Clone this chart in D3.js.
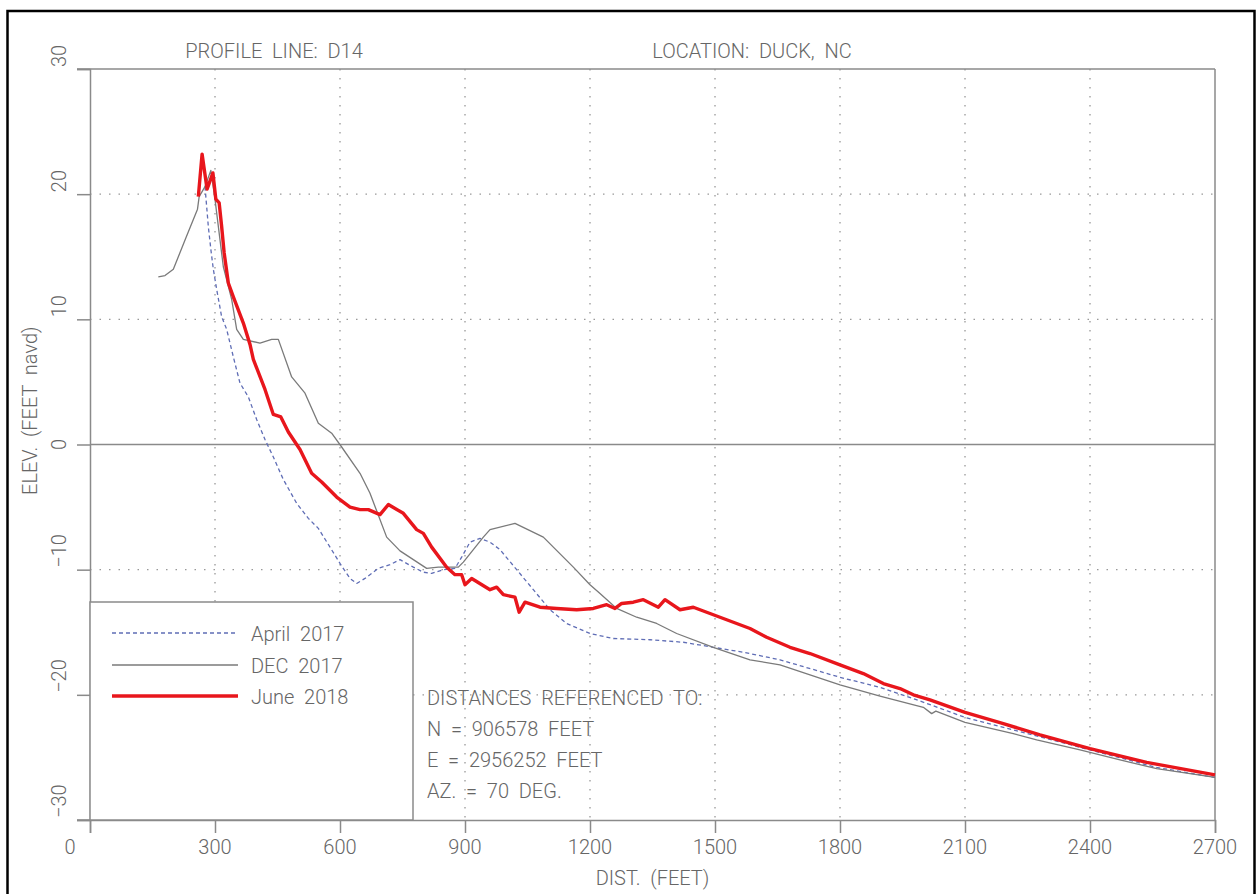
<!DOCTYPE html>
<html>
<head>
<meta charset="utf-8">
<script src="https://cdn.jsdelivr.net/npm/d3@7/dist/d3.min.js"></script>
<style>
  html, body { margin: 0; padding: 0; background: #fff; }
  svg text { font-family: Roboto, "Liberation Sans", "DejaVu Sans", sans-serif; font-weight: 300; fill: #666; white-space: pre; }
</style>
</head>
<body>
<svg id="chart" width="1257" height="894"></svg>
<script>
// ---- data ----
const xTicks = [0, 300, 600, 900, 1200, 1500, 1800, 2100, 2400, 2700];
const yTicks = [30, 20, 10, 0, -10, -20, -30];
const xGrid = [300, 600, 900, 1200, 1500, 1800, 2100, 2400];
const yGrid = [20, 10, -10, -20];

const april2017 = [[276,20.6],[280,19.0],[284,17.4],[290,15.6],[296,14.0],[304,12.4],[316,10.2],[328,9.2],[344,7.0],[360,4.9],[380,3.8],[400,2.0],[420,0.4],[440,-1.0],[464,-2.8],[496,-4.7],[524,-5.9],[548,-6.7],[576,-8.2],[600,-9.5],[624,-10.7],[640,-11.1],[660,-10.7],[692,-9.9],[720,-9.6],[744,-9.2],[776,-9.8],[800,-10.2],[820,-10.3],[848,-10.0],[876,-9.9],[892,-9.0],[912,-7.8],[936,-7.5],[960,-7.8],[984,-8.4],[1024,-10.0],[1064,-11.6],[1104,-13.2],[1144,-14.3],[1200,-15.1],[1256,-15.5],[1344,-15.6],[1424,-15.8],[1496,-16.2],[1568,-16.6],[1656,-17.2],[1800,-18.6],[1896,-19.4],[1976,-20.3],[2100,-21.8],[2216,-22.8],[2400,-24.4],[2560,-25.8],[2700,-26.6]];

const dec2017 = [[164,13.4],[180,13.5],[200,14.0],[230,16.5],[258,18.8],[262,19.8],[276,20.6],[290,21.9],[300,19.6],[304,18.5],[320,14.2],[340,11.6],[352,9.2],[368,8.4],[408,8.1],[436,8.4],[452,8.4],[484,5.4],[516,4.1],[548,1.7],[580,0.9],[604,-0.2],[648,-2.3],[672,-3.9],[712,-7.4],[744,-8.5],[808,-9.9],[836,-9.8],[884,-9.8],[896,-9.4],[944,-7.4],[960,-6.8],[1020,-6.3],[1088,-7.4],[1112,-8.2],[1160,-9.8],[1200,-11.2],[1224,-11.9],[1264,-13.1],[1312,-13.8],[1360,-14.3],[1408,-15.1],[1496,-16.2],[1584,-17.2],[1656,-17.6],[1800,-19.2],[1896,-20.1],[2000,-21.0],[2020,-21.5],[2030,-21.3],[2100,-22.2],[2216,-23.1],[2272,-23.6],[2376,-24.4],[2472,-25.2],[2560,-25.9],[2700,-26.6]];

const june2018 = [[260,19.8],[269,23.2],[281,20.4],[295,21.7],[302,19.6],[310,19.3],[316,17.4],[322,15.3],[332,12.9],[344,11.8],[368,9.7],[384,8.0],[392,6.8],[420,4.4],[440,2.4],[458,2.2],[476,1.0],[488,0.4],[504,-0.4],[532,-2.3],[556,-3.0],[592,-4.2],[624,-5.0],[648,-5.2],[668,-5.2],[696,-5.6],[716,-4.8],[752,-5.5],[784,-6.8],[800,-7.1],[820,-8.2],[856,-9.8],[876,-10.4],[892,-10.4],[900,-11.2],[916,-10.7],[960,-11.6],[976,-11.4],[992,-12.0],[1020,-12.2],[1030,-13.4],[1044,-12.6],[1080,-13.0],[1120,-13.1],[1168,-13.2],[1208,-13.1],[1240,-12.8],[1260,-13.1],[1276,-12.7],[1304,-12.6],[1328,-12.4],[1364,-13.0],[1380,-12.4],[1416,-13.2],[1448,-13.0],[1496,-13.6],[1528,-14.0],[1584,-14.7],[1624,-15.4],[1680,-16.2],[1728,-16.7],[1800,-17.6],[1856,-18.3],[1904,-19.1],[1944,-19.5],[1976,-20.0],[2016,-20.4],[2100,-21.4],[2192,-22.3],[2280,-23.2],[2400,-24.3],[2536,-25.4],[2700,-26.4]];

const seriesNames = ["April  2017", "DEC  2017", "June  2018"];
const annotationLines = ["DISTANCES  REFERENCED  TO:", "N  =  906578  FEET", "E  =  2956252  FEET", "AZ.  =  70  DEG."];
const titleLeft = "PROFILE  LINE:  D14";
const titleRight = "LOCATION:  DUCK,  NC";
const xTitle = "DIST.  (FEET)";
const yTitle = "ELEV.  (FEET  navd)";

// ---- layout ----
const svg = d3.select("#chart");
const L = 90, R = 1215, T = 69, B = 820;
const x = d3.scaleLinear().domain([0, 2700]).range([L, R]);
const y = d3.scaleLinear().domain([-30, 30]).range([B, T]);
const axisCol = "#8a8a8a";
const fmt = v => v < 0 ? "\u2212" + Math.abs(v) : String(v);

// outer frame
svg.append("rect").attr("x", 7.5).attr("y", 11).attr("width", 1247).attr("height", 900)
  .attr("fill", "none").attr("stroke", "#000").attr("stroke-width", 2.5);

// grid
const g = svg.append("g");
g.selectAll(".vg").data(xGrid).join("line")
  .attr("x1", d => x(d)).attr("x2", d => x(d)).attr("y1", T).attr("y2", B)
  .attr("stroke", "#999").attr("stroke-width", 1.3).attr("stroke-dasharray", "1.5,7.5");
g.selectAll(".hg").data(yGrid).join("line")
  .attr("x1", L).attr("x2", R).attr("y1", d => y(d)).attr("y2", d => y(d))
  .attr("stroke", "#999").attr("stroke-width", 1.3).attr("stroke-dasharray", "1.5,8");
// zero line
g.append("line").attr("x1", L).attr("x2", R).attr("y1", y(0)).attr("y2", y(0))
  .attr("stroke", axisCol).attr("stroke-width", 1.5);

// axes (frame)
const xAxis = d3.axisBottom(x).tickValues(xTicks).tickSize(13).tickFormat(() => "");
svg.append("g").attr("transform", `translate(0,${B})`).call(xAxis)
  .call(s => s.select(".domain").attr("stroke", axisCol).attr("stroke-width", 1.5))
  .call(s => s.selectAll(".tick line").attr("stroke", axisCol).attr("stroke-width", 1.5));
const yAxis = d3.axisLeft(y).tickValues(yTicks).tickSize(13).tickFormat(() => "");
svg.append("g").attr("transform", `translate(${L},0)`).call(yAxis)
  .call(s => s.select(".domain").attr("stroke", axisCol).attr("stroke-width", 1.5))
  .call(s => s.selectAll(".tick line").attr("stroke", axisCol).attr("stroke-width", 1.5));
// top and right frame
svg.append("line").attr("x1", L - 13).attr("x2", R).attr("y1", T).attr("y2", T)
  .attr("stroke", axisCol).attr("stroke-width", 1.5);
svg.append("line").attr("x1", R).attr("x2", R).attr("y1", T).attr("y2", B)
  .attr("stroke", axisCol).attr("stroke-width", 1.5);
svg.append("line").attr("x1", L - 13).attr("x2", L).attr("y1", B).attr("y2", B)
  .attr("stroke", axisCol).attr("stroke-width", 1.5);

// tick labels
svg.selectAll(".xl").data(xTicks).join("text")
  .attr("x", d => x(d) + (d === 0 ? -20 : 0)).attr("y", 854)
  .attr("text-anchor", "middle").attr("font-size", 20).text(d => fmt(d));
svg.selectAll(".yl").data(yTicks).join("text")
  .attr("transform", d => `translate(66,${d === 0 ? y(d) : y(d) - 2}) rotate(-90)`)
  .attr("text-anchor", d => d === 0 ? "middle" : "start").attr("font-size", 20).text(d => fmt(d));

// titles
svg.append("text").attr("x", 274).attr("y", 58).attr("text-anchor", "middle").attr("font-size", 20).text(titleLeft);
svg.append("text").attr("x", 752).attr("y", 58).attr("text-anchor", "middle").attr("font-size", 20).text(titleRight);
svg.append("text").attr("x", (L + R) / 2).attr("y", 885).attr("text-anchor", "middle").attr("font-size", 20).text(xTitle);
svg.append("text").attr("transform", "translate(37,495) rotate(-90)").attr("text-anchor", "start").attr("font-size", 20).text(yTitle);

// series
const line = d3.line().x(d => x(d[0])).y(d => y(d[1]));
const styles = [
  { data: april2017, stroke: "#5f6db5", width: 1.3, dash: "4,3" },
  { data: dec2017, stroke: "#7a7a7a", width: 1.3, dash: null },
  { data: june2018, stroke: "#e8161c", width: 3.4, dash: null }
];
const plot = svg.append("g");
styles.forEach(s => {
  plot.append("path").datum(s.data).attr("d", line).attr("fill", "none")
    .attr("stroke", s.stroke).attr("stroke-width", s.width)
    .attr("stroke-linejoin", "round").attr("stroke-dasharray", s.dash);
});

// legend
const lg = svg.append("g");
lg.append("rect").attr("x", L).attr("y", 602).attr("width", 413 - L).attr("height", B - 602)
  .attr("fill", "#fff").attr("stroke", axisCol).attr("stroke-width", 1.5);
const legY = [633, 665, 696];
styles.forEach((s, i) => {
  lg.append("line").attr("x1", 112).attr("x2", 238).attr("y1", legY[i]).attr("y2", legY[i])
    .attr("stroke", s.stroke).attr("stroke-width", s.width).attr("stroke-dasharray", s.dash);
  lg.append("text").attr("x", 251).attr("y", legY[i] + 8).attr("font-size", 20).text(seriesNames[i]);
});

// annotation
annotationLines.forEach((t, i) => {
  svg.append("text").attr("x", 427).attr("y", 705 + i * 31).attr("font-size", 20).text(t);
});
</script>
</body>
</html>
